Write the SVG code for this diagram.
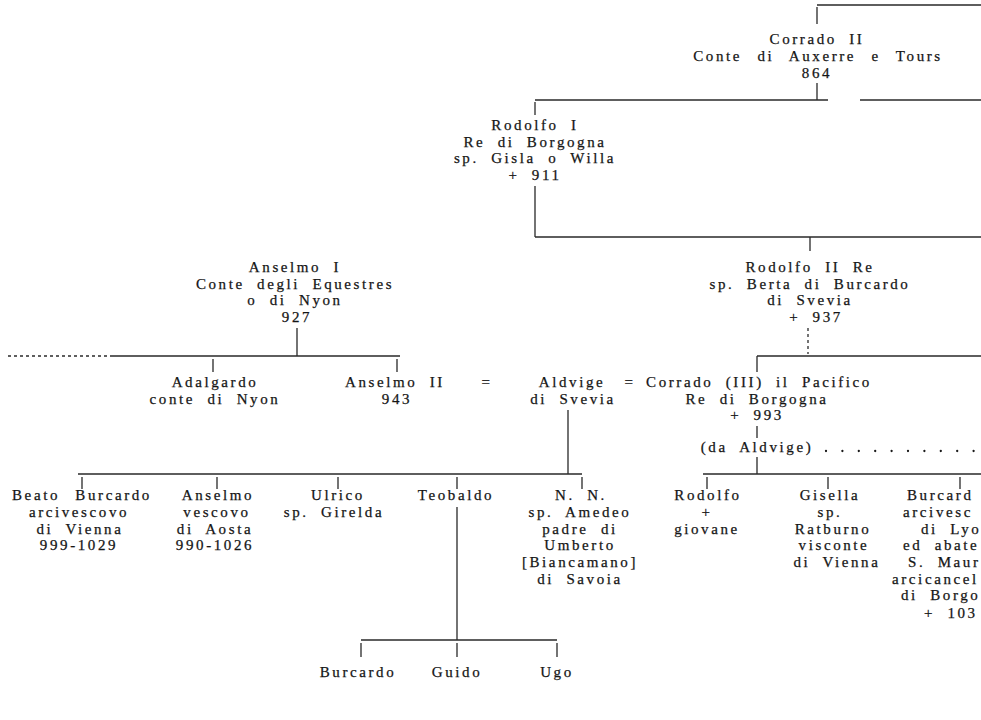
<svg xmlns="http://www.w3.org/2000/svg" width="981" height="720" viewBox="0 0 981 720">
<style>
  text { font-family: "Liberation Serif", "Times New Roman", serif; font-size: 15px; fill: #151515; stroke: #151515; stroke-width: 0.25px; letter-spacing: 2.6px; word-spacing: 6px; }
  .c { text-anchor: middle; }
  .ws { word-spacing: 9px; }
  .l { stroke: #2a2a2a; stroke-width: 1.3; fill: none; }
  .dl { stroke: #2a2a2a; stroke-width: 1.3; fill: none; stroke-dasharray: 3 3; }
  .dots { stroke: #1a1a1a; stroke-width: 2.3; stroke-linecap: round; fill: none; stroke-dasharray: 0 16.4; }
</style>
<rect width="981" height="720" fill="#ffffff"/>

<g id="connectors">
  <!-- top: Corrado II -->
  <path class="l" d="M817 5 H981 M817 7 V24"/>
  <path class="l" d="M817 83 V100 M535 100 H828 M860 100 H981"/>
  <!-- Rodolfo I -->
  <path class="l" d="M535 102 V115"/>
  <path class="l" d="M535 186 V237 M535 237 H981 M810 237 V251"/>
  <!-- Rodolfo II -->
  <path class="dl" d="M808 328 V354"/>
  <path class="l" d="M757 356 H981 M757 356 V372"/>
  <!-- Anselmo I -->
  <path class="l" d="M297 328 V356 M113 356 H400 M213 359 V372 M397 359 V372"/>
  <path class="dl" d="M8 356 H113"/>
  <!-- marriages -->
  <text class="c" x="487" y="387">=</text>
  <text class="c" x="630" y="387">=</text>
  <!-- Aldvige children -->
  <path class="l" d="M568 410 V474 M78 474 H582"/>
  <path class="l" d="M82 477 V489 M217 477 V489 M338 477 V489 M457 477 V489 M582 477 V489"/>
  <!-- Teobaldo children -->
  <path class="l" d="M457 507 V640 M361 640 H557 M361 643 V657 M457 643 V657 M557 643 V657"/>
  <!-- Corrado III children -->
  <path class="l" d="M757 426 V438 M757 457 V474 M703 474 H981"/>
  <path class="l" d="M707 477 V489 M828 477 V489 M960 477 V489"/>
  <g id="lbl-da-aldvige">
    <text class="c" x="757" y="452">(da Aldvige)</text>
  </g>
  <path class="dots" d="M826 451 H975"/>
</g>

<g id="n-corrado2">
  <text class="c" x="817" y="44">Corrado II</text>
  <text class="c ws" x="818" y="61">Conte di Auxerre e Tours</text>
  <text class="c" x="817" y="78">864</text>
</g>

<g id="n-rodolfo1">
  <text class="c" x="535" y="130">Rodolfo I</text>
  <text class="c" x="535" y="147">Re di Borgogna</text>
  <text class="c" x="535" y="163">sp. Gisla o Willa</text>
  <text class="c" x="535" y="180">+ 911</text>
</g>

<g id="n-rodolfo2">
  <text class="c" x="810" y="272">Rodolfo II Re</text>
  <text class="c" x="810" y="289">sp. Berta di Burcardo</text>
  <text class="c" x="810" y="305">di Svevia</text>
  <text class="c" x="816" y="322">+ 937</text>
</g>

<g id="n-anselmo1">
  <text class="c" x="295" y="272">Anselmo I</text>
  <text class="c" x="295" y="289">Conte degli Equestres</text>
  <text class="c" x="295" y="305">o di Nyon</text>
  <text class="c" x="297" y="322">927</text>
</g>

<g id="n-adalgardo">
  <text class="c" x="215" y="387">Adalgardo</text>
  <text class="c" x="215" y="404">conte di Nyon</text>
</g>

<g id="n-anselmo2">
  <text class="c" x="395" y="387">Anselmo II</text>
  <text class="c" x="397" y="404">943</text>
</g>

<g id="n-aldvige">
  <text class="c" x="572" y="387">Aldvige</text>
  <text class="c" x="573" y="404">di Svevia</text>
</g>

<g id="n-corrado3">
  <text class="c" x="759" y="387">Corrado (III) il Pacifico</text>
  <text class="c" x="757" y="404">Re di Borgogna</text>
  <text class="c" x="757" y="420">+ 993</text>
</g>

<g id="n-beato-burcardo">
  <text class="c ws" x="82" y="500">Beato Burcardo</text>
  <text class="c" x="79" y="517">arcivescovo</text>
  <text class="c" x="80" y="534">di Vienna</text>
  <text class="c" x="79" y="550">999-1029</text>
</g>

<g id="n-anselmo-vescovo">
  <text class="c" x="218" y="500">Anselmo</text>
  <text class="c" x="217" y="517">vescovo</text>
  <text class="c" x="215" y="534">di Aosta</text>
  <text class="c" x="215" y="550">990-1026</text>
</g>

<g id="n-ulrico">
  <text class="c" x="338" y="500">Ulrico</text>
  <text class="c" x="334" y="517">sp. Girelda</text>
</g>

<g id="n-teobaldo">
  <text class="c" x="456" y="500">Teobaldo</text>
</g>

<g id="n-nn">
  <text class="c" x="581" y="500">N. N.</text>
  <text class="c" x="580" y="517">sp. Amedeo</text>
  <text class="c" x="580" y="534">padre di</text>
  <text class="c" x="580" y="550">Umberto</text>
  <text class="c" x="580" y="567">[Biancamano]</text>
  <text class="c" x="580" y="584">di Savoia</text>
</g>

<g id="n-burcardo-t">
  <text class="c" x="358" y="677">Burcardo</text>
</g>
<g id="n-guido">
  <text class="c" x="457" y="677">Guido</text>
</g>
<g id="n-ugo">
  <text class="c" x="557" y="677">Ugo</text>
</g>

<g id="n-rodolfo">
  <text class="c" x="708" y="500">Rodolfo</text>
  <text class="c" x="707" y="517">+</text>
  <text class="c" x="707" y="534">giovane</text>
</g>

<g id="n-gisella">
  <text class="c" x="830" y="500">Gisella</text>
  <text class="c" x="830" y="517">sp.</text>
  <text class="c" x="833" y="534">Ratburno</text>
  <text class="c" x="834" y="550">visconte</text>
  <text class="c" x="837" y="567">di Vienna</text>
</g>

<g id="n-burcardo-arc">
  <text x="907" y="500">Burcard</text>
  <text x="903" y="517">arcivesc</text>
  <text x="921" y="534">di Lyo</text>
  <text x="903" y="550">ed abate</text>
  <text x="908" y="567">S. Maur</text>
  <text x="892" y="584">arcicancel</text>
  <text x="901" y="600">di Borgo</text>
  <text x="924" y="618">+ 103</text>
</g>
</svg>
